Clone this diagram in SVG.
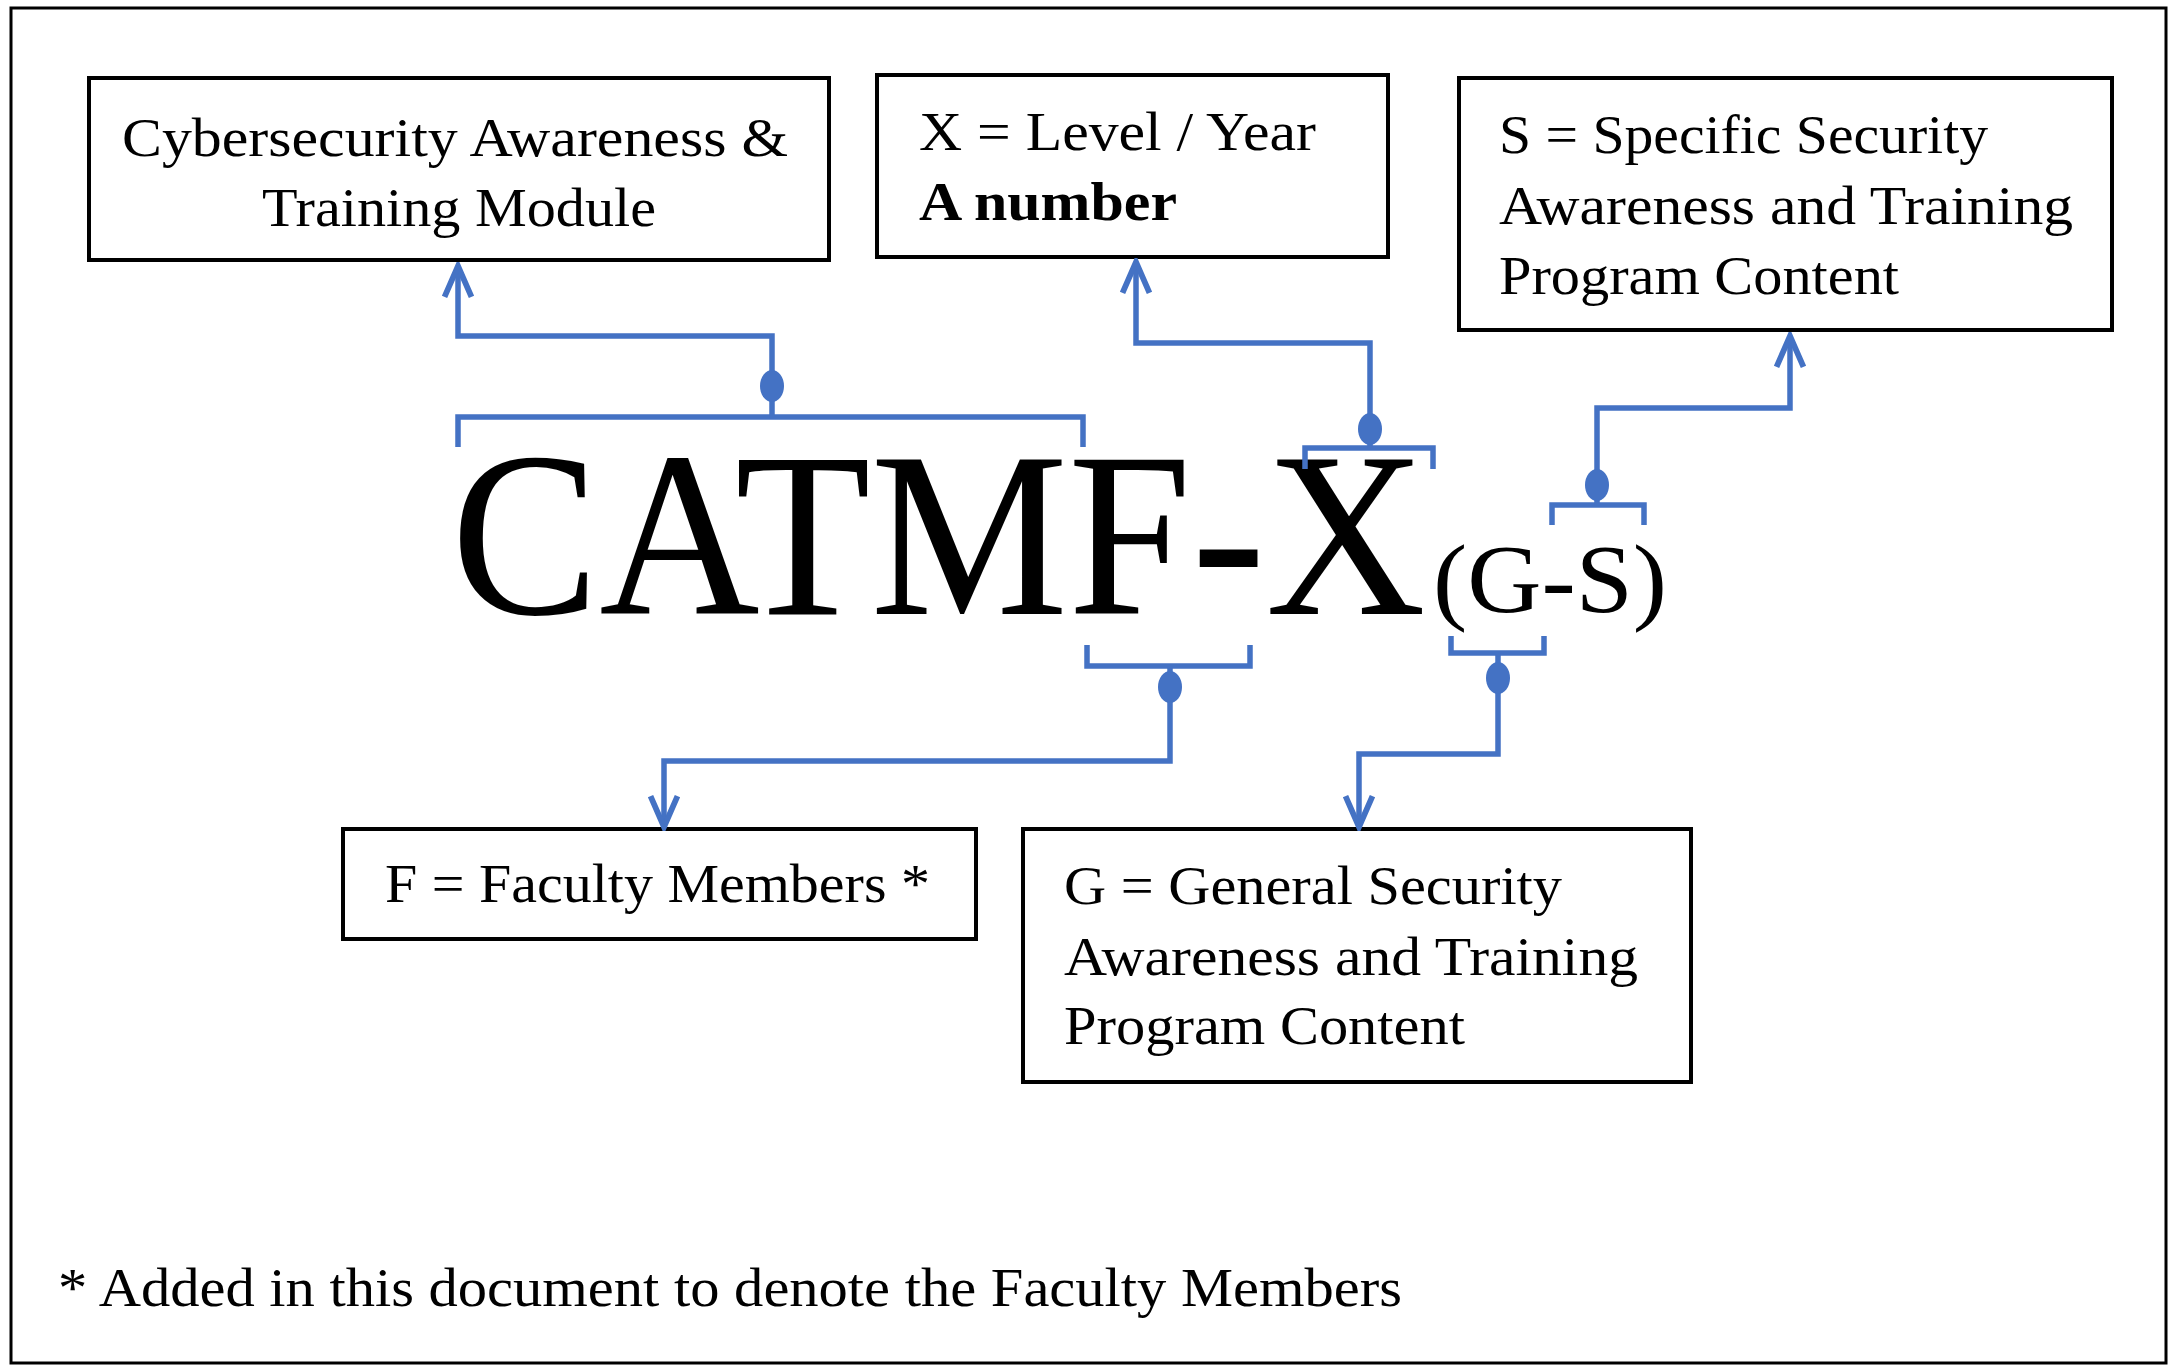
<svg xmlns="http://www.w3.org/2000/svg" width="2177" height="1372" viewBox="0 0 2177 1372">
<style>
.box{fill:#fff;stroke:#000;stroke-width:4}
.t{font-family:"Liberation Serif","Times New Roman",serif;font-size:54px;fill:#000}
.big{font-size:236px}
.mid{font-size:98px}
.c{fill:none;stroke:#4472C4;stroke-width:5.5}
.d{fill:#4472C4}
</style>
<defs>
<marker id="ar" viewBox="0 0 20 20" refX="18" refY="10" markerWidth="7" markerHeight="7" markerUnits="strokeWidth" orient="auto">
<path d="M2,3 L18,10 L2,17" fill="none" stroke="#4472C4" stroke-width="3"/>
</marker>
</defs>
<rect x="0" y="0" width="2177" height="1372" fill="#fff"/>
<rect x="11" y="8" width="2155" height="1355" fill="none" stroke="#000" stroke-width="3"/>
<g id="n1"><rect class="box" x="89" y="78" width="740" height="182"/>
<text class="t" x="122" y="156" textLength="666" lengthAdjust="spacingAndGlyphs">Cybersecurity Awareness &amp;</text>
<text class="t" x="262" y="226" textLength="394" lengthAdjust="spacingAndGlyphs">Training Module</text></g>
<g id="n2"><rect class="box" x="877" y="75" width="511" height="182"/>
<text class="t" x="919" y="150" textLength="397" lengthAdjust="spacingAndGlyphs">X = Level / Year</text>
<text class="t" x="919" y="220" font-weight="bold" textLength="258" lengthAdjust="spacingAndGlyphs">A number</text></g>
<g id="n3"><rect class="box" x="1459" y="78" width="653" height="252"/>
<text class="t" x="1499" y="153" textLength="489" lengthAdjust="spacingAndGlyphs">S = Specific Security</text>
<text class="t" x="1499" y="224" textLength="574" lengthAdjust="spacingAndGlyphs">Awareness and Training</text>
<text class="t" x="1499" y="294" textLength="400" lengthAdjust="spacingAndGlyphs">Program Content</text></g>
<g id="n4"><rect class="box" x="343" y="829" width="633" height="110"/>
<text class="t" x="385" y="902" textLength="545" lengthAdjust="spacingAndGlyphs">F = Faculty Members *</text></g>
<g id="n5"><rect class="box" x="1023" y="829" width="668" height="253"/>
<text class="t" x="1064" y="904" textLength="498" lengthAdjust="spacingAndGlyphs">G = General Security</text>
<text class="t" x="1064" y="975" textLength="574" lengthAdjust="spacingAndGlyphs">Awareness and Training</text>
<text class="t" x="1064" y="1044" textLength="401" lengthAdjust="spacingAndGlyphs">Program Content</text></g>
<g id="code">
<text class="t big" x="451" y="614" textLength="975" lengthAdjust="spacingAndGlyphs">CATMF-X</text>
<text class="t mid" x="1433" y="612" textLength="234" lengthAdjust="spacingAndGlyphs">(G-S)</text>
</g>
<text class="t" x="58" y="1306" textLength="1344" lengthAdjust="spacingAndGlyphs">* Added in this document to denote the Faculty Members</text>
<g id="connectors">
<path class="c" d="M458,447 V417 H1083 V447"/>
<path class="c" d="M772,417 V336 H458 V266" marker-end="url(#ar)"/>
<ellipse class="d" cx="772" cy="386" rx="12" ry="16"/>
<path class="c" d="M1305,469 V448 H1433 V469"/>
<path class="c" d="M1370,448 V343 H1136 V262" marker-end="url(#ar)"/>
<ellipse class="d" cx="1370" cy="429" rx="12" ry="16"/>
<path class="c" d="M1552,525 V505 H1644 V525"/>
<path class="c" d="M1597,505 V408 H1790 V336" marker-end="url(#ar)"/>
<ellipse class="d" cx="1597" cy="485" rx="12" ry="16"/>
<path class="c" d="M1087,645 V666 H1250 V645"/>
<path class="c" d="M1170,666 V761 H664 V827" marker-end="url(#ar)"/>
<ellipse class="d" cx="1170" cy="687" rx="12" ry="16"/>
<path class="c" d="M1451,636 V653 H1544 V636"/>
<path class="c" d="M1498,653 V754 H1359 V827" marker-end="url(#ar)"/>
<ellipse class="d" cx="1498" cy="678" rx="12" ry="16"/>
</g>
</svg>
